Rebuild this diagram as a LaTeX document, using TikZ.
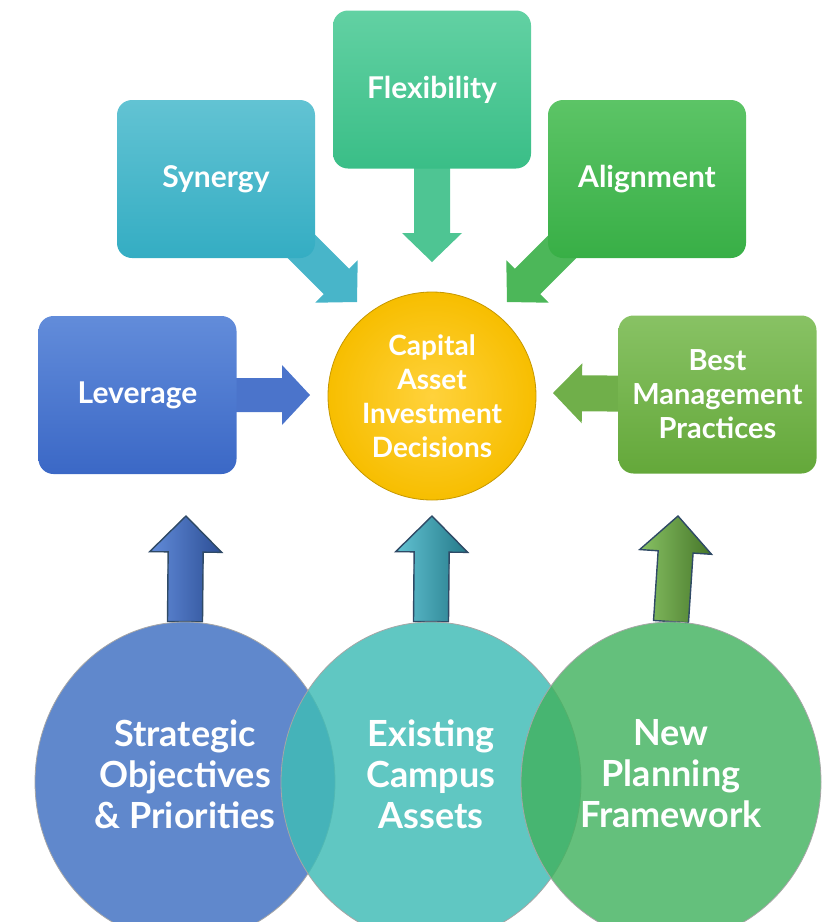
\documentclass[tikz,border=0pt]{standalone}
\usepackage{fontspec}
\setmainfont{Lato}
\usepackage{tikz}
\usetikzlibrary{calc,backgrounds,shapes.geometric}

\definecolor{synT}{HTML}{62C3D3}
\definecolor{synB}{HTML}{34ADC3}
\definecolor{flexT}{HTML}{62D1A3}
\definecolor{flexB}{HTML}{3ABE87}
\definecolor{alT}{HTML}{5CC466}
\definecolor{alB}{HTML}{38AF46}
\definecolor{levT}{HTML}{628CDA}
\definecolor{levB}{HTML}{3B68C6}
\definecolor{bestT}{HTML}{88C264}
\definecolor{bestB}{HTML}{64A83A}
\definecolor{capIn}{HTML}{FFD23C}
\definecolor{capOut}{HTML}{F7BE00}
\definecolor{stratC}{HTML}{6088CC}
\definecolor{existC}{HTML}{40BCB6}
\definecolor{planC}{HTML}{42B25F}
\definecolor{edgeC}{HTML}{2F4A66}

% block arrow: style, start, tip, shaft half width, head half width, head length
\newcommand{\blockarrow}[6][]{%
  \coordinate (hb) at ($(#3)!#6!(#2)$);
  \fill[#1] ($(#2)!#4!90:(#3)$) -- ($(hb)!#4!-90:(#2)$) -- ($(hb)!#5!-90:(#2)$) -- (#3)
    -- ($(hb)!#5!90:(#2)$) -- ($(hb)!#4!90:(#2)$) -- ($(#2)!#4!-90:(#3)$) -- cycle;}

\begin{document}
\begin{tikzpicture}[x=0.5pt, y=-0.5pt,
  box/.style={rectangle, rounded corners=7.5pt, minimum width=99pt, minimum height=79pt,
    inner sep=2pt, text=white, align=center, font=\bfseries\fontsize{15}{17}\selectfont},
  bubble/.style={ellipse, minimum width=150pt, minimum height=160pt, inner sep=0pt,
    draw=black!35, line width=0.4pt},
  bubbletext/.style={text=white, align=center, font=\bfseries\fontsize{18}{20.5}\selectfont},
  uparrow/.style={draw=edgeC, line width=0.7pt, line join=miter}]
  \clip (0,0) rectangle (831,922);
  \useasboundingbox (0,0) rectangle (831,922);

  % boxes round the decision
  \node[box, top color=synT, bottom color=synB] (syn) at (216,179) {Synergy};
  \node[box, top color=flexT, bottom color=flexB] (flex) at (432,89.5) {Flexibility};
  \node[box, top color=alT, bottom color=alB] (align) at (647,179) {Alignment};
  \node[box, top color=levT, bottom color=levB] (lev) at (137.5,395) {Leverage};
  \node[box, top color=bestT, bottom color=bestB,
    font=\bfseries\fontsize{14.5}{17}\selectfont] (best) at (717.5,394.5) {Best\\Management\\Practices};
  \node[circle, minimum size=104pt, inner sep=0pt, inner color=capIn, outer color=capOut,
    draw=capOut!80!black, line width=0.4pt, text=white, align=center,
    font=\bfseries\fontsize{14}{17}\selectfont] (cap) at (432,396) {Capital\\Asset\\Investment\\Decisions};

  % the three foundations
  \node[bubble, fill=stratC] (strat) at (185,782) {};
  \node[bubble, fill=existC, fill opacity=0.83] (exist) at (431,782) {};
  \node[bubble, fill=planC, fill opacity=0.82] (plan) at (671,782) {};
  \node[bubbletext] (strat-t) at (185,774) {Strategic\\Objectives\\\& Priorities};
  \node[bubbletext] (exist-t) at (431,774) {Existing\\Campus\\Assets};
  \node[bubbletext] (plan-t) at (671,774) {New\\Planning\\Framework};

  % tips of the arrows
  \coordinate (syn-tip) at (357,302);
  \coordinate (al-tip) at (507,302);
  \coordinate (flex-tip) at (432,262);
  \coordinate (lev-tip) at (310,395);
  \coordinate (best-tip) at (553,393);
  \coordinate (strat-tip) at (186,516);
  \coordinate (exist-tip) at (432,516);
  \coordinate (plan-tip) at (678,516);

  \begin{scope}[on background layer]
    \blockarrow[fill=synB!90!white]{$(syn-tip)+(-100,-100)$}{syn-tip}{9pt}{15pt}{14.5pt}
    \blockarrow[fill=alB!90!white]{$(al-tip)+(100,-100)$}{al-tip}{9pt}{15pt}{14.5pt}
    \blockarrow[fill=flexB!90!white]{flex.center}{flex-tip}{9pt}{15pt}{14.5pt}
    \blockarrow[fill=levB!92!white]{lev.center}{lev-tip}{8.5pt}{15pt}{14pt}
    \blockarrow[fill=bestB!92!white]{best.center}{best-tip}{9pt}{15pt}{14.5pt}
    \blockarrow[uparrow, left color=levT, right color=levB!75!black]{strat.north}{strat-tip}{8.75pt}{18pt}{18pt}
    \blockarrow[uparrow, left color=synT, right color=synB!70!black]{exist.north}{exist-tip}{8.75pt}{18pt}{18pt}
    \blockarrow[uparrow, left color=bestT, right color=bestB!70!black]{plan.north}{plan-tip}{8.75pt}{18pt}{18pt}
  \end{scope}
\end{tikzpicture}
\end{document}
